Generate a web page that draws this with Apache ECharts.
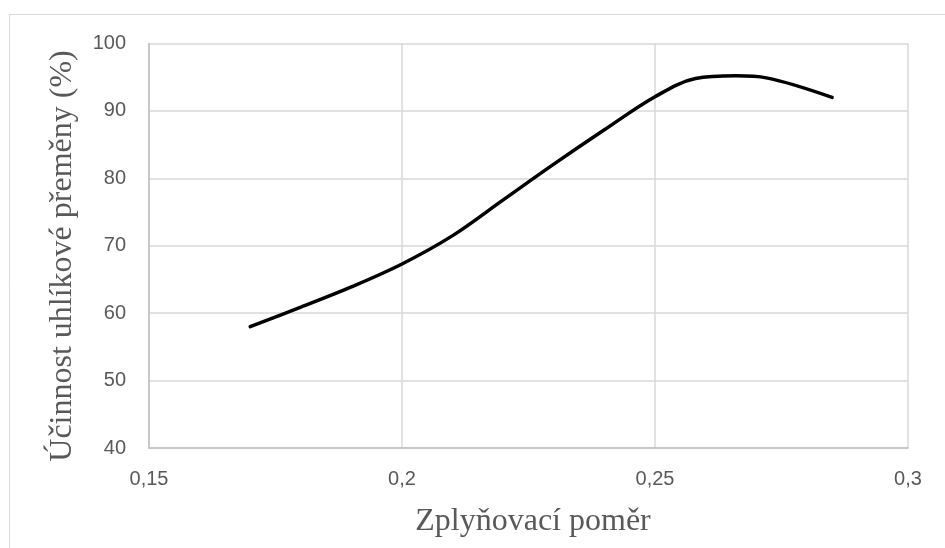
<!DOCTYPE html>
<html>
<head>
<meta charset="utf-8">
<script src="https://cdn.jsdelivr.net/npm/echarts@6/dist/echarts.min.js"></script>
<style>
html,body{margin:0;padding:0;background:#fff;}
#chart{width:945px;height:548px;}
</style>
</head>
<body>
<div id="chart"></div>
<script>
// Data
var xValues = [0.17, 0.18, 0.19, 0.2, 0.21, 0.22, 0.23, 0.24, 0.25, 0.258, 0.266, 0.272, 0.285];
var yValues = [58, 60.9, 63.9, 67.3, 71.5, 76.8, 82.1, 87.2, 92.1, 94.8, 95.2, 94.9, 92];
var xTitle = 'Zplyňovací poměr';
var yTitle = 'Účinnost uhlíkové přeměny (%)';
var xMin = 0.15, xMax = 0.3, xStep = 0.05;
var yMin = 40, yMax = 100, yStep = 10;

var seriesData = xValues.map(function (x, i) { return [x, yValues[i]]; });

var chart = echarts.init(document.getElementById('chart'), null, {renderer: 'canvas'});
var labelFont = '"Liberation Sans", Arial, sans-serif';
var titleFont = '"Liberation Serif", "Times New Roman", serif';
var option = {
  animation: false,
  backgroundColor: '#ffffff',
  grid: {left: 149, right: 37, top: 43.5, bottom: 100, containLabel: false},
  xAxis: {
    type: 'value',
    min: xMin, max: xMax, interval: xStep,
    axisLine: {show: true, lineStyle: {color: '#bfbfbf', width: 1.5}},
    axisTick: {show: false},
    axisLabel: {
      margin: 21, color: '#595959', fontSize: 20, fontFamily: labelFont,
      formatter: function (v) { return String(+v.toFixed(2)).replace('.', ','); }
    },
    splitLine: {show: true, lineStyle: {color: '#d9d9d9', width: 1.5}}
  },
  yAxis: {
    type: 'value',
    min: yMin, max: yMax, interval: yStep,
    axisLine: {show: true, lineStyle: {color: '#bfbfbf', width: 1.5}},
    axisTick: {show: false},
    axisLabel: {margin: 23, color: '#595959', fontSize: 20, fontFamily: labelFont},
    splitLine: {show: true, lineStyle: {color: '#d9d9d9', width: 1.5}}
  },
  graphic: [
    {type: 'rect', shape: {x: 9.5, y: 14.5, width: 960, height: 560}, style: {fill: 'none', stroke: '#d9d9d9', lineWidth: 1}, silent: true, z: -10},
    {type: 'text', x: 533, y: 522, style: {text: xTitle, x: 0, y: 0, align: 'center', verticalAlign: 'middle', font: '32px ' + titleFont, fill: '#595959'}},
    {type: 'text', x: 63, y: 256, rotation: Math.PI / 2, style: {text: yTitle, x: 0, y: 0, align: 'center', verticalAlign: 'middle', font: '32px ' + titleFont, fill: '#595959'}}
  ],
  series: [{
    type: 'line',
    data: seriesData,
    smooth: 0.35,
    showSymbol: false,
    lineStyle: {color: '#000000', width: 3.5, cap: 'round'},
    itemStyle: {color: '#000000'}
  }]
};
chart.setOption(option);
</script>
</body>
</html>
